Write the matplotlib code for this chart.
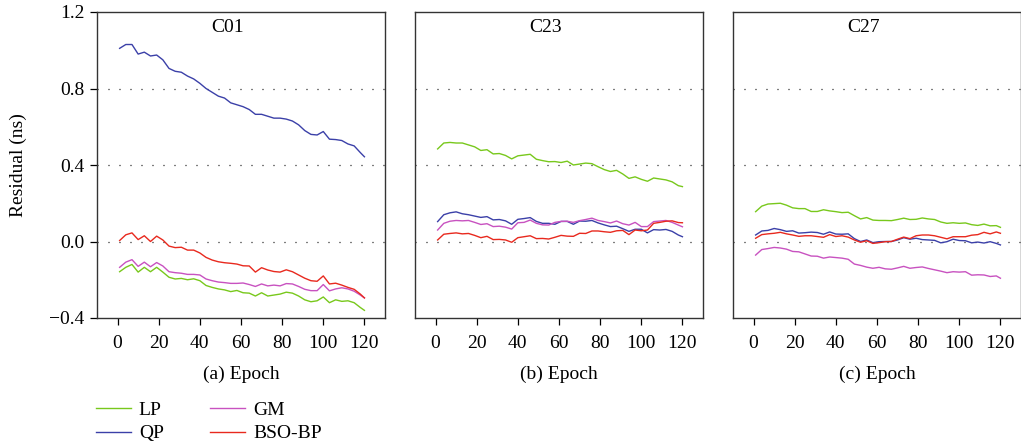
import numpy as np
import matplotlib
matplotlib.use('Agg')
import matplotlib.pyplot as plt

##########################################################################
# data (every 3 epochs)
##########################################################################
epoch = np.r_[np.arange(1, 120, 3), 120]

methods = ['LP', 'QP', 'GM', 'BSO-BP']
colors = {'LP': '#78c81c', 'QP': '#3b40a8', 'GM': '#c852c0', 'BSO-BP': '#e8291e'}
panels = ['C01', 'C23', 'C27']
xlabels = ['(a) Epoch', '(b) Epoch', '(c) Epoch']

c01_lp = [-0.158, -0.135, -0.12, -0.16, -0.135, -0.158, -0.135, -0.16, -0.187, -0.196,
          -0.193, -0.2, -0.195, -0.205, -0.23, -0.24, -0.248, -0.253, -0.262, -0.256,
          -0.268, -0.27, -0.285, -0.268, -0.285, -0.28, -0.275, -0.265, -0.27, -0.285,
          -0.305, -0.315, -0.31, -0.29, -0.32, -0.305, -0.313, -0.31, -0.32, -0.345, -0.36]
c01_qp = [1.01, 1.03, 1.03, 0.98, 0.99, 0.97, 0.975, 0.95, 0.905, 0.89,
          0.885, 0.865, 0.85, 0.827, 0.80, 0.78, 0.76, 0.75, 0.725, 0.715,
          0.705, 0.69, 0.665, 0.665, 0.655, 0.645, 0.645, 0.64, 0.63, 0.61,
          0.58, 0.56, 0.557, 0.575, 0.535, 0.533, 0.528, 0.51, 0.50, 0.465, 0.443]
c01_gm = [-0.135, -0.108, -0.095, -0.13, -0.108, -0.132, -0.11, -0.128, -0.158, -0.163,
          -0.166, -0.172, -0.172, -0.175, -0.196, -0.205, -0.212, -0.215, -0.219, -0.219,
          -0.217, -0.225, -0.235, -0.222, -0.232, -0.228, -0.232, -0.22, -0.222, -0.235,
          -0.25, -0.257, -0.257, -0.225, -0.258, -0.248, -0.242, -0.248, -0.26, -0.28, -0.295]
c01_bso = [0.005, 0.035, 0.045, 0.01, 0.03, 0.0, 0.028, 0.008, -0.024, -0.032,
           -0.03, -0.045, -0.045, -0.06, -0.083, -0.097, -0.106, -0.111, -0.114, -0.118,
           -0.127, -0.128, -0.16, -0.137, -0.149, -0.157, -0.16, -0.148, -0.158, -0.175,
           -0.192, -0.205, -0.208, -0.18, -0.222, -0.218, -0.228, -0.24, -0.25, -0.275, -0.295]

c23_lp = [0.484, 0.515, 0.518, 0.515, 0.515, 0.505, 0.495, 0.476, 0.48, 0.458,
          0.46, 0.45, 0.432, 0.448, 0.452, 0.456, 0.43, 0.423, 0.417, 0.418,
          0.413, 0.42, 0.4, 0.405, 0.41, 0.407, 0.391, 0.376, 0.366, 0.372,
          0.353, 0.33, 0.338, 0.325, 0.315, 0.332, 0.327, 0.322, 0.312, 0.292, 0.287]
c23_qp = [0.104, 0.14, 0.15, 0.155, 0.145, 0.14, 0.133, 0.126, 0.13, 0.113,
          0.115, 0.108, 0.09, 0.116, 0.12, 0.125, 0.105, 0.095, 0.095, 0.09,
          0.105, 0.105, 0.09, 0.107, 0.106, 0.11, 0.097, 0.087, 0.078, 0.08,
          0.067, 0.053, 0.064, 0.064, 0.045, 0.062, 0.06, 0.063, 0.053, 0.034, 0.025]
c23_gm = [0.06, 0.095, 0.106, 0.11, 0.108, 0.11, 0.1, 0.089, 0.093, 0.078,
          0.08, 0.075, 0.065, 0.098, 0.1, 0.112, 0.095, 0.087, 0.086, 0.1,
          0.105, 0.106, 0.1, 0.109, 0.115, 0.122, 0.11, 0.104, 0.097, 0.107,
          0.093, 0.086, 0.1, 0.078, 0.078, 0.104, 0.107, 0.11, 0.1, 0.086, 0.077]
c23_bso = [0.008, 0.038, 0.042, 0.045, 0.04, 0.042, 0.032, 0.02, 0.027, 0.01,
           0.011, 0.008, -0.004, 0.02, 0.025, 0.03, 0.015, 0.016, 0.013, 0.022,
           0.032, 0.028, 0.027, 0.043, 0.042, 0.055, 0.055, 0.051, 0.048, 0.056,
           0.058, 0.036, 0.06, 0.056, 0.06, 0.095, 0.1, 0.106, 0.108, 0.099, 0.098]

c27_lp = [0.156, 0.185, 0.196, 0.198, 0.2, 0.19, 0.176, 0.172, 0.172, 0.157,
          0.157, 0.166, 0.16, 0.156, 0.151, 0.153, 0.135, 0.118, 0.125, 0.112,
          0.11, 0.11, 0.109, 0.115, 0.122, 0.115, 0.116, 0.123, 0.118, 0.115,
          0.102, 0.095, 0.098, 0.095, 0.097, 0.088, 0.084, 0.091, 0.082, 0.083, 0.074]
c27_qp = [0.034, 0.055, 0.058, 0.068, 0.062, 0.053, 0.056, 0.044, 0.046, 0.049,
          0.047, 0.038, 0.05, 0.039, 0.038, 0.04, 0.015, 0.0, 0.008, -0.006,
          -0.001, 0.0, 0.0, 0.008, 0.02, 0.012, 0.017, 0.01, 0.008, 0.006,
          -0.007, -0.001, 0.012, 0.005, 0.004, -0.007, -0.003, -0.008, -0.001, -0.01, -0.018]
c27_gm = [-0.071, -0.042, -0.037, -0.031, -0.034, -0.04, -0.052, -0.054, -0.065, -0.076,
          -0.077, -0.087, -0.081, -0.084, -0.087, -0.093, -0.118, -0.125, -0.134, -0.14,
          -0.135, -0.143, -0.145, -0.138, -0.13, -0.14, -0.136, -0.133, -0.141, -0.148,
          -0.155, -0.163, -0.158, -0.16, -0.158, -0.176, -0.174, -0.175, -0.183, -0.18, -0.192]
c27_bso = [0.017, 0.036, 0.04, 0.043, 0.048, 0.04, 0.034, 0.027, 0.03, 0.03,
           0.026, 0.022, 0.036, 0.026, 0.03, 0.023, 0.008, -0.004, 0.004, -0.01,
           -0.006, -0.001, 0.0, 0.012, 0.023, 0.015, 0.03, 0.034, 0.034, 0.03,
           0.022, 0.014, 0.025, 0.025, 0.025, 0.033, 0.036, 0.048, 0.04, 0.05, 0.043]

series = {
    'C01': [c01_lp, c01_qp, c01_gm, c01_bso],
    'C23': [c23_lp, c23_qp, c23_gm, c23_bso],
    'C27': [c27_lp, c27_qp, c27_gm, c27_bso],
}

##########################################################################
# plot
##########################################################################
plt.rcParams['font.family'] = ['Liberation Serif', 'DejaVu Serif']
plt.rcParams['font.size'] = 14

fig = plt.figure(figsize=(10.21, 4.47), dpi=100)
lefts = [97, 415, 733]
axes = []
for i, name in enumerate(panels):
    ax = fig.add_axes([lefts[i] / 1021, 1 - 318 / 447, 288 / 1021, 306 / 447])
    for m, vals in zip(methods, series[name]):
        ax.plot(epoch, vals, color=colors[m], lw=1.0, label=m)
    for yv in [0.0, 0.4, 0.8]:
        ax.axhline(yv, color='black', lw=0.9, ls=(0, (0.8, 8)), zorder=0)
    ax.set_xlim(-10, 130)
    ax.set_ylim(-0.4, 1.2)
    ax.set_xticks(range(0, 121, 20))
    ax.tick_params(axis='x', direction='out', length=5, width=0.9, pad=7)
    if i == 0:
        ax.set_yticks([-0.4, 0.0, 0.4, 0.8, 1.2])
        ax.set_yticklabels(['\u22120.4', '0.0', '0.4', '0.8', '1.2'])
        ax.tick_params(axis='y', direction='out', length=5, width=0.9, pad=4)
    else:
        ax.set_yticks([])
    for s in ax.spines.values():
        s.set_color('#333333')
        s.set_linewidth(1.0)
    ax.text(0.455, 0.948, name, transform=ax.transAxes, ha='center', va='center')
    ax.set_xlabel(xlabels[i], labelpad=10)
    axes.append(ax)

fig.text(0.018, 0.631, 'Residual (ns)', rotation=90, ha='center', va='center')

handles, labels = axes[0].get_legend_handles_labels()
fig.legend(handles, labels, ncol=2, frameon=False, loc='upper left',
           bbox_to_anchor=(0.094, 0.102), handlelength=1.8, handletextpad=0.4,
           columnspacing=2.4, labelspacing=0.3, borderaxespad=0, borderpad=0)

fig.savefig('out.png', dpi=100)
